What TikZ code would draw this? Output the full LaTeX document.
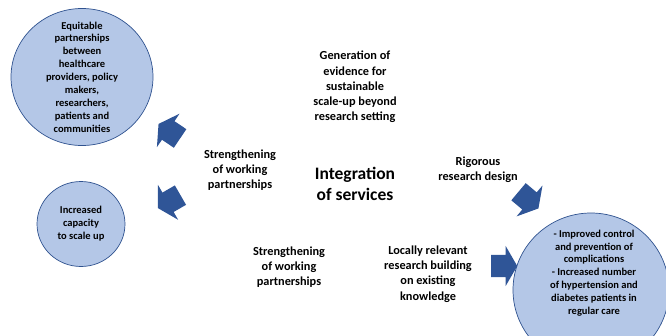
\documentclass[tikz,border=0pt]{standalone}
\usepackage{fontspec}
\setmainfont{Carlito}
\usetikzlibrary{shapes.arrows, shapes.geometric}
\definecolor{circfill}{HTML}{B4C7E7}
\definecolor{circline}{HTML}{2F528F}
\definecolor{arrblue}{HTML}{2F5597}
\tikzset{
  outcome/.style ={ellipse, draw=circline, fill=circfill, line width=0.7pt,
                   inner sep=0pt},
  circtxt/.style ={align=center, font=\bfseries\fontsize{10.5}{12.9}\selectfont},
  midtxt/.style  ={align=center, font=\bfseries\fontsize{12.3}{15.2}\selectfont},
  bigtxt/.style  ={align=center, font=\bfseries\fontsize{17.5}{21}\selectfont},
  blockarr/.style={single arrow, fill=arrblue, draw=none,
                   inner xsep=0pt, inner ysep=11pt,
                   minimum height=26pt,
                   single arrow head extend=9pt, single arrow tip angle=120},
}
\begin{document}
\begin{tikzpicture}[x=1pt, y=-1pt]
\useasboundingbox (0,0) rectangle (666,335);
\clip (0,0) rectangle (666,335);

%% ════════════════════════════════════════════════════════════
%%  OUTCOME CIRCLES
%% ════════════════════════════════════════════════════════════
\node[outcome, minimum width=142pt, minimum height=137pt] (equit) at (82,77) {};
\node[circtxt] (equittxt) at (equit.center)
  {Equitable\\partnerships\\between\\healthcare\\providers, policy\\makers,\\
   researchers,\\patients and\\communities};

\node[outcome, minimum width=88pt, minimum height=85pt] (capac) at (81,224) {};
\node[circtxt] (capactxt) at (capac.center)
  {Increased\\capacity\\to scale up};

\node[outcome, minimum width=156pt, minimum height=154pt] (health) at (591,290) {};
\node[circtxt] (healthtxt) at (594,273)
  {- Improved control\\and prevention of\\complications\\- Increased number\\
   of hypertension and\\diabetes patients in\\regular care};

%% ════════════════════════════════════════════════════════════
%%  PATHWAY LABELS
%% ════════════════════════════════════════════════════════════
\node[midtxt] (evid) at (355,87)
  {Generation of\\evidence for\\sustainable\\scale-up beyond\\research setting};
\node[midtxt] (strengup) at (240,170)
  {Strengthening\\of working\\partnerships};
\node[bigtxt] (integ) at (355,184)
  {Integration\\of services};
\node[midtxt] (rigor) at (478,170)
  {Rigorous\\research design};
\node[midtxt] (strenglow) at (289,267)
  {Strengthening\\of working\\partnerships};
\node[midtxt] (local) at (428,274)
  {Locally relevant\\research building\\on existing\\knowledge};

%% block arrows
\node[blockarr, rotate=146] (arrup)    at (172,133) {};
\node[blockarr, rotate=210] (arrdown)  at (172,200) {};
\node[blockarr, rotate=-40] (arrrigor) at (526,198) {};
\node[blockarr]             (arrlocal) at (501,266) {};

\end{tikzpicture}
\end{document}
